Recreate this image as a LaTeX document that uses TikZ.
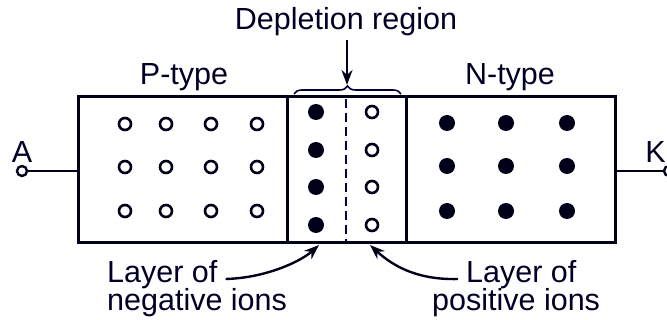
\documentclass[tikz,border=0pt]{standalone}
\usepackage{fontspec}
\setmainfont{Liberation Sans}
\usetikzlibrary{arrows.meta,decorations.pathreplacing}
\begin{document}
\begin{tikzpicture}[x=1pt,y=-1pt,
  box/.style={draw=black!90!blue,line width=3pt},
  hole/.style={draw=black!90!blue,line width=2.6pt,fill=white,circle,minimum size=12pt,inner sep=0pt},
  ion/.style={fill=black!90!blue,circle,minimum size=16pt,inner sep=0pt},
  lbl/.style={font=\fontsize{30.5}{33}\selectfont,text=black!85!blue,inner sep=0pt},
  arr/.style={-{Stealth[length=15pt,width=11pt]},line width=2.4pt,draw=black!90!blue}]
\useasboundingbox (0,0) rectangle (667,320);
% body
\node[box,minimum width=537pt,minimum height=146pt,inner sep=0pt] (body) at (346.5,170) {};
\draw[box] (287,97) -- (287,243);
\draw[box] (406,97) -- (406,243);
\draw[draw=black!70!blue,line width=2.5pt,dash pattern=on 9pt off 5pt] (346,99) -- (346,242);
% P-type holes
\foreach \x in {125,166,211,257}
  \foreach \y in {124,167,211}
    \node[hole] at (\x,\y) {};
% N-type electrons
\foreach \x in {447,506,567}
  \foreach \y in {123,166,211}
    \node[ion] at (\x,\y) {};
% depletion ions
\foreach \y/\n in {112/1,150/2,187/3,225/4}{
  \node[ion] (neg\n) at (316,\y) {};
  \node[hole] (pos\n) at (372,\y) {};
}
% terminals
\node[hole,minimum size=10pt,line width=2.4pt] (A) at (22,171) {};
\node[hole,minimum size=10pt,line width=2.4pt] (K) at (669,171) {};
\coordinate (Ain) at (78,171);
\coordinate (Kin) at (615,171);
\draw[line width=2.4pt,draw=black!90!blue] (A) -- (Ain);
\draw[line width=2.4pt,draw=black!90!blue] (K) -- (Kin);
\node[lbl] (Alab) at (22,152) {A};
\node[lbl,anchor=east] (Klab) at (666,152) {K};
% labels
\node[lbl] (ptype) at (184,77) {P-type};
\node[lbl] (ntype) at (510,77) {N-type};
\node[lbl] (dep) at (346,22) {Depletion region};
\draw[decorate,decoration={brace,amplitude=8pt},line width=1.6pt,draw=black!80!blue] (294,94) -- (401,94);
\coordinate (bracetip) at (347,85);
\draw[arr] (dep.south -| bracetip) ++(0,4) -- (bracetip);
% bottom labels
\node[lbl,anchor=west] (neg1l) at (107,275) {Layer of};
\node[lbl,anchor=west] (neg2l) at (107,303) {negative ions};
\node[lbl,anchor=west] (pos1l) at (466,275) {Layer of};
\node[lbl,anchor=west] (pos2l) at (432,303) {positive ions};
\coordinate (negtip) at (319,245);
\coordinate (postip) at (370,245);
\draw[arr] (neg1l.east) ++(8,4) .. controls (265,278) and (300,262) .. (negtip);
\draw[arr] (pos1l.west) ++(-8,4) .. controls (420,280) and (395,268) .. (postip);
\end{tikzpicture}
\end{document}
